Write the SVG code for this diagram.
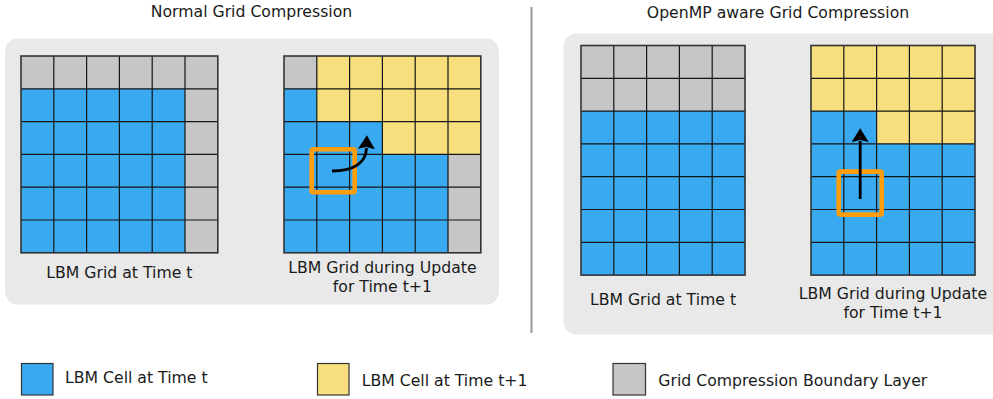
<svg xmlns="http://www.w3.org/2000/svg" width="993" height="399" viewBox="0 0 993 399">
<style>
.panel{fill:#e9e9e9}
.blue{fill:#3aaaf0}
.yellow{fill:#f7df7e}
.gray{fill:#c6c6c6}
.lines{fill:none;stroke:#151515;stroke-width:1.2}
.border{fill:none;stroke:#333;stroke-width:1.6}
.sel{fill:none;stroke:#ff9d0a;stroke-width:4.6}
.arrow{fill:none;stroke:#000;stroke-width:2.8;marker-end:url(#ah)}
text{font-family:"DejaVu Sans","Liberation Sans",sans-serif;font-size:15.7px;fill:#1a1a1a}
.c{text-anchor:middle}
.key{stroke:#333;stroke-width:1.2}
</style>
<defs>
<marker id="ah" markerUnits="userSpaceOnUse" markerWidth="14" markerHeight="17" viewBox="0 0 13 16" refX="1" refY="8" orient="auto">
<path d="M0,0 L13,8 L0,16 L2,8 z" fill="#000"/>
</marker>
</defs>

<rect class="panel" x="5" y="38.5" width="494" height="266" rx="13"/>
<rect class="panel" x="563.5" y="33.5" width="445" height="301" rx="13"/>
<line x1="531.5" y1="7" x2="531.5" y2="333" stroke="#9a9a9a" stroke-width="2"/>

<text class="c" x="251.5" y="17">Normal Grid Compression</text>
<text class="c" x="778" y="17.5">OpenMP aware Grid Compression</text>

<g id="grid1">
<rect class="gray" x="21" y="56" width="196.8" height="196.8"/>
<rect class="blue" x="21" y="88.8" width="164" height="164"/>
<path class="lines" d="M53.8,56V252.8M86.6,56V252.8M119.4,56V252.8M152.2,56V252.8M185,56V252.8M21,88.8H217.8M21,121.6H217.8M21,154.4H217.8M21,187.2H217.8M21,220H217.8"/>
<rect class="border" x="21" y="56" width="196.8" height="196.8"/>
<text class="c" x="119.4" y="278">LBM Grid at Time t</text>
</g>

<g id="grid2">
<rect class="blue" x="284" y="56" width="196.8" height="196.8"/>
<path class="yellow" d="M316.8,56H480.8V154.4H382.4V121.6H316.8z"/>
<rect class="gray" x="284" y="56" width="32.8" height="32.8"/>
<rect class="gray" x="448" y="154.4" width="32.8" height="98.4"/>
<path class="lines" d="M316.8,56V252.8M349.6,56V252.8M382.4,56V252.8M415.2,56V252.8M448,56V252.8M284,88.8H480.8M284,121.6H480.8M284,154.4H480.8M284,187.2H480.8M284,220H480.8"/>
<rect class="border" x="284" y="56" width="196.8" height="196.8"/>
<rect class="sel" x="311.7" y="149.3" width="43" height="43" rx="1.5"/>
<text class="c" x="382.4" y="273">LBM Grid during Update</text>
<text class="c" x="382.4" y="291.7">for Time t+1</text>
</g>

<g id="grid3">
<rect class="blue" x="581" y="45.5" width="164" height="229.6"/>
<rect class="gray" x="581" y="45.5" width="164" height="65.6"/>
<path class="lines" d="M613.8,45.5V275.1M646.6,45.5V275.1M679.4,45.5V275.1M712.2,45.5V275.1M581,78.3H745M581,111.1H745M581,143.9H745M581,176.7H745M581,209.5H745M581,242.3H745"/>
<rect class="border" x="581" y="45.5" width="164" height="229.6"/>
<text class="c" x="663" y="305">LBM Grid at Time t</text>
</g>

<g id="grid4">
<rect class="blue" x="811" y="45.5" width="164" height="229.6"/>
<path class="yellow" d="M811,45.5H975V143.9H876.6V111.1H811z"/>
<path class="lines" d="M843.8,45.5V275.1M876.6,45.5V275.1M909.4,45.5V275.1M942.2,45.5V275.1M811,78.3H975M811,111.1H975M811,143.9H975M811,176.7H975M811,209.5H975M811,242.3H975"/>
<rect class="border" x="811" y="45.5" width="164" height="229.6"/>
<rect class="sel" x="838.7" y="171.6" width="43" height="43" rx="1.5"/>
<text class="c" x="893" y="299">LBM Grid during Update</text>
<text class="c" x="893" y="318">for Time t+1</text>
</g>

<g id="connectors">
<path class="arrow" d="M332,171 C352,171 366,164 366.5,148"/>
<path class="arrow" d="M860.2,199 V141"/>
</g>

<g id="legend-blue">
<rect class="blue key" x="21.5" y="363.5" width="31.5" height="31.5"/>
<text x="65" y="383">LBM Cell at Time t</text>
</g>
<g id="legend-yellow">
<rect class="yellow key" x="317.5" y="363.5" width="31.5" height="31.5"/>
<text x="361.7" y="386">LBM Cell at Time t+1</text>
</g>
<g id="legend-gray">
<rect class="gray key" x="613" y="363.5" width="32.5" height="31.5"/>
<text x="658.3" y="386">Grid Compression Boundary Layer</text>
</g>
</svg>
